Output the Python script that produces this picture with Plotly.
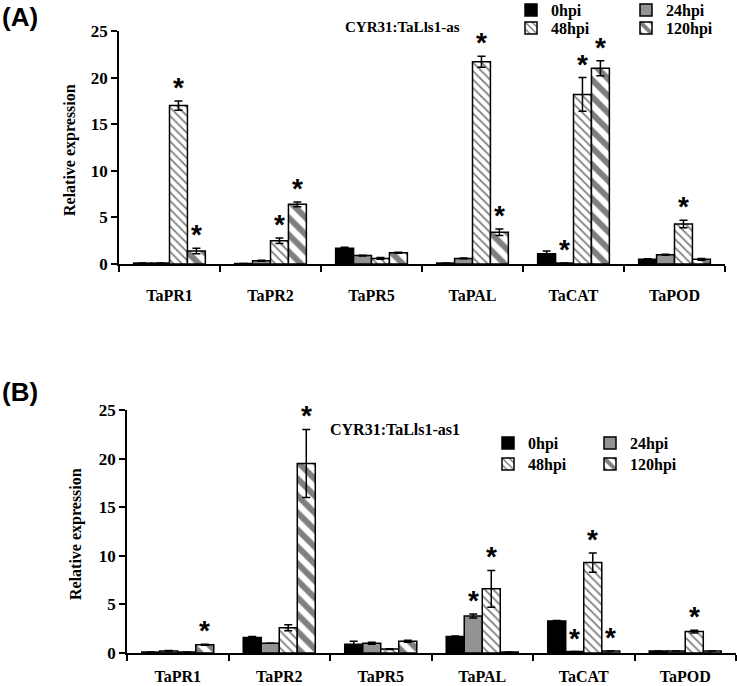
import plotly.graph_objects as go

GENES = ["TaPR1", "TaPR2", "TaPR5", "TaPAL", "TaCAT", "TaPOD"]
SERIES = ["0hpi", "24hpi", "48hpi", "120hpi"]

# panel A: CYR31:TaLls1-as
A_0H = [0.1, 0.05, 1.7, 0.1, 1.1, 0.5]
A_24H = [0.1, 0.35, 0.9, 0.6, 0.1, 1.0]
A_48H = [17.0, 2.5, 0.6, 21.7, 18.2, 4.3]
A_120H = [1.4, 6.4, 1.2, 3.4, 21.0, 0.5]
A_0H_ERR = [0.0, 0.0, 0.1, 0.0, 0.3, 0.05]
A_24H_ERR = [0.0, 0.05, 0.05, 0.05, 0.0, 0.05]
A_48H_ERR = [0.5, 0.3, 0.1, 0.6, 1.8, 0.4]
A_120H_ERR = [0.3, 0.25, 0.05, 0.35, 0.8, 0.1]
A_SIG = [
    [0, 0, 0, 0, 0, 0],
    [0, 0, 0, 0, 1, 0],
    [1, 1, 0, 1, 1, 1],
    [1, 1, 0, 1, 1, 0],
]

# panel B: CYR31:TaLls1-as1
B_0H = [0.1, 1.6, 0.9, 1.7, 3.3, 0.2]
B_24H = [0.2, 1.0, 1.0, 3.8, 0.15, 0.2]
B_48H = [0.1, 2.6, 0.4, 6.6, 9.3, 2.2]
B_120H = [0.85, 19.5, 1.2, 0.1, 0.2, 0.2]
B_0H_ERR = [0.0, 0.1, 0.3, 0.05, 0.05, 0.0]
B_24H_ERR = [0.05, 0.0, 0.1, 0.2, 0.0, 0.0]
B_48H_ERR = [0.0, 0.3, 0.05, 1.9, 1.0, 0.15]
B_120H_ERR = [0.05, 3.5, 0.1, 0.0, 0.0, 0.0]
B_SIG = [
    [0, 0, 0, 0, 0, 0],
    [0, 0, 0, 1, 1, 0],
    [0, 0, 0, 1, 1, 1],
    [1, 1, 0, 0, 1, 0],
]

Y_TICKS = [0, 5, 10, 15, 20, 25]

W, H = 737, 686
BARGAP = 0.29
SERIF = "Liberation Serif, Times New Roman, serif"
SANS = "Liberation Sans, Arial, sans-serif"


def marker_style(idx):
    line = {"color": "black", "width": 1.5}
    if idx == 0:
        return {"color": "black", "line": line}
    if idx == 1:
        return {"color": "#939393", "line": line}
    if idx == 2:
        return {"color": "white", "line": line,
                "pattern": {"shape": "\\", "fgcolor": "black", "bgcolor": "white",
                            "size": 6, "solidity": 0.3}}
    return {"color": "white", "line": line,
            "pattern": {"shape": "\\", "fgcolor": "black", "bgcolor": "white",
                        "size": 12, "solidity": 0.5}}


fig = go.Figure()
annotations = []

panels = [
    ("x", "y", [A_0H, A_24H, A_48H, A_120H],
     [A_0H_ERR, A_24H_ERR, A_48H_ERR, A_120H_ERR], A_SIG, ["legend", "legend", "legend2", "legend2"]),
    ("x2", "y2", [B_0H, B_24H, B_48H, B_120H],
     [B_0H_ERR, B_24H_ERR, B_48H_ERR, B_120H_ERR], B_SIG, ["legend3", "legend3", "legend4", "legend4"]),
]

slot = (1 - BARGAP) / len(SERIES)
for xa, ya, vals, errs, sig, legs in panels:
    for j, name in enumerate(SERIES):
        fig.add_trace(
            go.Bar(
                x=GENES,
                y=vals[j],
                name=name,
                xaxis=xa,
                yaxis=ya,
                legend=legs[j],
                offsetgroup=str(j),
                marker=marker_style(j),
                error_y={"type": "data", "array": errs[j], "visible": True,
                         "color": "black", "thickness": 1.5, "width": 4},
                hovertemplate=f"{name}<br>%{{x}}: %{{y}}<extra></extra>",
            )
        )
        # significance stars above bar + error
        for i, flag in enumerate(sig[j]):
            if flag:
                annotations.append(
                    dict(
                        x=i + (j - 1.5) * slot,
                        y=vals[j][i] + errs[j][i],
                        xref=xa, yref=ya,
                        text="*", showarrow=False,
                        yanchor="bottom", yshift=-4,
                        font={"family": SANS, "size": 28, "color": "black", "weight": "bold"},
                    )
                )


def px_x(p):
    return p / W


def px_y(p):
    return 1 - p / H


text_font = {"family": SERIF, "size": 16, "color": "black", "weight": "bold"}
tick_font = {"family": SERIF, "size": 17, "color": "black", "weight": "bold"}

annotations += [
    dict(x=px_x(0), y=px_y(17), xref="paper", yref="paper", text="(A)", showarrow=False,
         xanchor="left", yanchor="middle",
         font={"family": SANS, "size": 26, "color": "black", "weight": "bold"}),
    dict(x=px_x(0), y=px_y(392), xref="paper", yref="paper", text="(B)", showarrow=False,
         xanchor="left", yanchor="middle",
         font={"family": SANS, "size": 26, "color": "black", "weight": "bold"}),
    dict(x=px_x(343), y=px_y(27), xref="paper", yref="paper", text="CYR31:TaLls1-as",
         showarrow=False, xanchor="left", yanchor="middle",
         font={"family": SERIF, "size": 15, "color": "black", "weight": "bold"}),
    dict(x=px_x(328), y=px_y(430), xref="paper", yref="paper", text="CYR31:TaLls1-as1",
         showarrow=False, xanchor="left", yanchor="middle",
         font={"family": SERIF, "size": 16, "color": "black", "weight": "bold"}),
    dict(x=px_x(70), y=px_y(150), xref="paper", yref="paper", text="Relative expression",
         showarrow=False, textangle=-90, xanchor="center", yanchor="middle", font=text_font),
    dict(x=px_x(76), y=px_y(534), xref="paper", yref="paper", text="Relative expression",
         showarrow=False, textangle=-90, xanchor="center", yanchor="middle", font=text_font),
]

xaxis_style = dict(
    type="category", range=[-0.5, 5.5], tickson="boundaries", ticks="outside", ticklen=6,
    tickwidth=1.5, tickcolor="black", showline=True, linewidth=1.5, linecolor="black",
    showgrid=False, zeroline=False, tickfont=text_font, fixedrange=True,
)
yaxis_style = dict(
    range=[0, 25], tickvals=Y_TICKS, ticks="outside", ticklen=6, tickwidth=1.5,
    tickcolor="black", showline=True, linewidth=1.5, linecolor="black", showgrid=False,
    zeroline=False, tickfont=tick_font, fixedrange=True,
)

legend_font = {"family": SERIF, "size": 16, "color": "black", "weight": "bold"}


def legend_at(x_px, y_px, entry):
    return dict(orientation="h", x=px_x(x_px), y=px_y(y_px), xanchor="left", yanchor="middle",
                font=legend_font, entrywidth=entry, entrywidthmode="pixels",
                bgcolor="rgba(0,0,0,0)", itemclick=False, itemdoubleclick=False)


fig.update_layout(
    width=W, height=H,
    margin={"l": 0, "r": 0, "t": 0, "b": 0, "autoexpand": False},
    paper_bgcolor="white", plot_bgcolor="white",
    barmode="group", bargap=BARGAP, bargroupgap=0,
    xaxis=dict(xaxis_style, domain=[px_x(119), px_x(725)], anchor="y", ticklabelstandoff=16),
    yaxis=dict(yaxis_style, domain=[px_y(264), px_y(31)], anchor="x"),
    xaxis2=dict(xaxis_style, domain=[px_x(127), px_x(736)], anchor="y2", ticklabelstandoff=8),
    yaxis2=dict(yaxis_style, domain=[px_y(653), px_y(410)], anchor="x2"),
    legend=legend_at(511, 10, 70),
    legend2=legend_at(511, 28, 70),
    legend3=legend_at(488, 443, 57),
    legend4=legend_at(488, 464, 57),
    annotations=annotations,
    showlegend=True,
)

fig.write_html("out.html", config={"displayModeBar": False},
               post_script="document.body.style.margin='0px';")
